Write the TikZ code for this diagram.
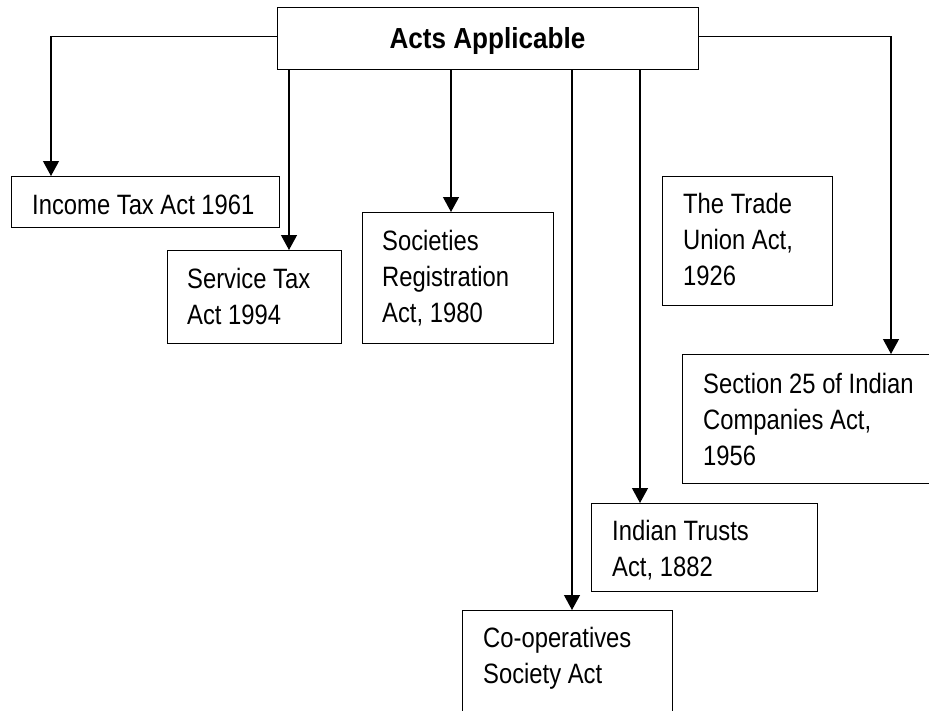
\documentclass[tikz,border=0pt]{standalone}
\usepackage{fontspec}
\setmainfont{Liberation Sans}[FakeStretch=0.85,BoldFeatures={FakeStretch=0.9}]
\usetikzlibrary{arrows.meta}
\begin{document}
\begin{tikzpicture}[x=1pt,y=-1pt,
  box/.style={draw, rectangle, line width=1.4pt, anchor=north west, inner sep=0pt},
  txt/.style={anchor=base west, inner sep=0pt, text width=300pt, align=flush left,
              font=\fontsize{28}{36}\selectfont},
  arr/.style={line width=1.2pt, -{Triangle[width=16pt,length=15pt]}},
  ln/.style={line width=1.2pt}]
\useasboundingbox (0,0) rectangle (929,710);
\clip (0,0) rectangle (929,710);
% top box
\node[box, minimum width=421pt, minimum height=62pt] (top) at (277,7) {};
\node[anchor=base, inner sep=0pt, font=\fontsize{29}{34}\selectfont\bfseries] (topT) at (487.5,48) {Acts Applicable};
% boxes
\node[box, minimum width=268pt, minimum height=51pt] (income) at (11,176) {};
\node[txt] (incomeT) at (32,214) {Income Tax Act 1961};
\node[box, minimum width=174pt, minimum height=93pt] (service) at (167,250) {};
\node[txt] (serviceT) at (187,288) {Service Tax\\Act 1994};
\node[box, minimum width=191pt, minimum height=131pt] (soc) at (362,212) {};
\node[txt] (socT) at (382,250) {Societies\\Registration\\Act, 1980};
\node[box, minimum width=170pt, minimum height=129pt] (trade) at (662,176) {};
\node[txt] (tradeT) at (683,213) {The Trade\\Union Act,\\1926};
\node[box, minimum width=260pt, minimum height=129pt] (sec) at (682,354) {};
\node[txt] (secT) at (703,393) {Section 25 of Indian\\Companies Act,\\1956};
\node[box, minimum width=226pt, minimum height=88pt] (trust) at (591,503) {};
\node[txt] (trustT) at (612,540) {Indian Trusts\\Act, 1882};
\node[box, minimum width=210pt, minimum height=130pt] (coop) at (462,610) {};
\node[txt] (coopT) at (483,647) {Co-operatives\\Society Act};
% arrival points
\coordinate (ia) at ([xshift=40pt]income.north west);
\coordinate (sa) at ([xshift=122pt]service.north west);
\coordinate (ra) at ([xshift=89pt]soc.north west);
\coordinate (ca) at ([xshift=110pt]coop.north west);
\coordinate (ta) at ([xshift=49pt]trust.north west);
\coordinate (xa) at ([xshift=209pt]sec.north west);
\coordinate (tw) at ([yshift=2pt]top.west);
\coordinate (te) at ([yshift=2pt]top.east);
% connectors
\draw[arr] (tw) -| (ia);
\draw[arr] (top.south -| sa) -- (sa);
\draw[arr] (top.south -| ra) -- (ra);
\draw[arr] (top.south -| ca) -- (ca);
\draw[arr] (top.south -| ta) -- (ta);
\draw[arr] (te) -| (xa);
\end{tikzpicture}
\end{document}
